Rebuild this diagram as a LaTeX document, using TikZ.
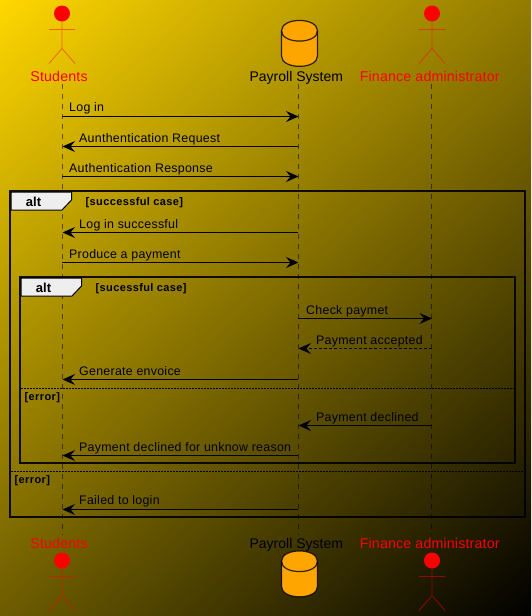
\documentclass[tikz,border=0pt]{standalone}
\usepackage{fontspec}
\setmainfont{Liberation Sans}
\newfontfamily\msgfont[LetterSpace=2.2]{Liberation Sans}
\newfontfamily\namefont[LetterSpace=1.2]{Liberation Sans}
\newfontfamily\condfont[LetterSpace=3.4]{Liberation Sans}
\usetikzlibrary{arrows.meta}
\definecolor{bggold}{RGB}{255,215,0}
\definecolor{dborange}{RGB}{255,165,0}
\definecolor{tabfill}{RGB}{238,238,238}
\pgfdeclarehorizontalshading{bgshade}{1000bp}{color(0bp)=(bggold); color(810.3bp)=(black)}
\tikzset{
  x=1pt,y=-1pt,
  msgtext/.style={anchor=base west,inner sep=0pt,font=\msgfont\fontsize{12.4}{15}\selectfont,text=black},
  boldtext/.style={anchor=base west,inner sep=0pt,font=\condfont\bfseries\fontsize{11}{13}\selectfont,text=black},
  alttext/.style={anchor=base,inner sep=0pt,font=\bfseries\fontsize{13}{15}\selectfont,text=black},
  actorname/.style={anchor=base,inner sep=0pt,font=\namefont\fontsize{14.2}{16}\selectfont,text=red},
  dbname/.style={anchor=base,inner sep=0pt,font=\fontsize{14}{16}\selectfont,text=black},
  lifeline/.style={draw=black,draw opacity=.55,line width=.8pt,dash pattern=on 5pt off 5pt},
  msg/.style={draw=black,line width=1pt,-{Stealth[length=12.5pt,width=11pt,inset=4.5pt]}},
  framebox/.style={draw=black,line width=2pt,draw opacity=.9},
  tabbox/.style={draw=black,line width=1pt,fill=tabfill},
  divider/.style={draw=black,line width=.8pt,dash pattern=on 1.5pt off 1.5pt},
  actorline/.style={draw=red,draw opacity=.5,line width=.8pt},
  actorhead/.style={fill=red,draw=none},
  dbshape/.style={fill=dborange,draw=black,draw opacity=.8,line width=1.2pt},
}
\newcommand{\actorfig}[2]{% x, head y
  \fill[actorhead] (#1,#2) circle[radius=8];
  \draw[actorline] (#1,#2+8) -- (#1,#2+35) (#1-13,#2+16) -- (#1+13,#2+16)
    (#1-13,#2+50) -- (#1,#2+35) -- (#1+13,#2+50);
}
\newcommand{\dbfig}[2]{% centre x, top y
  \draw[dbshape] (#1-18,#2+10.3) .. controls (#1-18,#2-3.5) and (#1+18,#2-3.5) .. (#1+18,#2+10.3)
    -- (#1+18,#2+35.5) .. controls (#1+18,#2+49.3) and (#1-18,#2+49.3) .. (#1-18,#2+35.5) -- cycle;
  \draw[dbshape,fill=none] (#1-18,#2+10.3) .. controls (#1-18,#2+24) and (#1+18,#2+24) .. (#1+18,#2+10.3);
}
\begin{document}
\begin{tikzpicture}
\useasboundingbox (0,0) rectangle (531,616);
\begin{scope}
  \clip (0,0) rectangle (531,616);
  \node[inner sep=0pt,outer sep=0pt,rotate=-49.24] (bg) at (265.5,308) {\pgfuseshading{bgshade}};
\end{scope}

% participants
\node[actorname] (sTop) at (59,81) {Students};
\node[dbname] (pTop) at (296.3,81) {Payroll System};
\node[actorname] (fTop) at (429.7,81) {Finance administrator};
\node[actorname] (sBot) at (59,548.5) {Students};
\node[dbname] (pBot) at (296.3,548.5) {Payroll System};
\node[actorname] (fBot) at (429.7,548.5) {Finance administrator};

\coordinate (sA) at (62,84);
\coordinate (sB) at (62,535);
\coordinate (pA) at (298,84);
\coordinate (pB) at (298,535);
\coordinate (fA) at (431.5,84);
\coordinate (fB) at (431.5,535);
\draw[lifeline] (sA) -- (sB);
\draw[lifeline] (pA) -- (pB);
\draw[lifeline] (fA) -- (fB);

\actorfig{62}{13.5}
\actorfig{432}{13.5}
\actorfig{62}{560.5}
\actorfig{432}{560.5}
\dbfig{299.5}{20.5}
\dbfig{299.5}{551}

% frames
\draw[framebox] (10.3,191.3) rectangle (525,517);
\draw[framebox] (20.3,277.3) rectangle (515,463);
\draw[tabbox] (11,192) -- (71.5,192) -- (71.5,200) -- (62,210) -- (11,210) -- cycle;
\draw[tabbox] (21,278) -- (81.5,278) -- (81.5,286) -- (72,296) -- (21,296) -- cycle;
\node[alttext] (altA) at (33.5,206) {alt};
\node[alttext] (altB) at (43.5,292) {alt};
\node[boldtext] (condA) at (85.5,205) {[successful case]};
\node[boldtext] (condB) at (95.5,291) {[sucessful case]};
\coordinate (divAa) at (11,471.5);
\coordinate (divAb) at (525,471.5);
\coordinate (divBa) at (21,388.5);
\coordinate (divBb) at (515,388.5);
\draw[divider] (divAa) -- (divAb);
\draw[divider] (divBa) -- (divBb);
\node[boldtext] (errA) at (14.5,483) {[error]};
\node[boldtext] (errB) at (24.5,400) {[error]};

% messages
\coordinate (m1a) at (62,116.5);   \coordinate (m1b) at (298.5,116.5);
\coordinate (m2a) at (298,146.5);  \coordinate (m2b) at (62.5,146.5);
\coordinate (m3a) at (62,176.5);   \coordinate (m3b) at (298.5,176.5);
\coordinate (m4a) at (298,232.5);  \coordinate (m4b) at (62.5,232.5);
\coordinate (m5a) at (62,262.5);   \coordinate (m5b) at (298.5,262.5);
\coordinate (m6a) at (298,318.5);  \coordinate (m6b) at (432,318.5);
\coordinate (m7a) at (431.5,348.5);\coordinate (m7b) at (298.5,348.5);
\coordinate (m8a) at (298,379.5);  \coordinate (m8b) at (62.5,379.5);
\coordinate (m9a) at (431.5,425.5);\coordinate (m9b) at (298.5,425.5);
\coordinate (m10a) at (298,455.5); \coordinate (m10b) at (62.5,455.5);
\coordinate (m11a) at (298,509.5); \coordinate (m11b) at (62.5,509.5);
\draw[msg] (m1a) -- (m1b);
\draw[msg] (m2a) -- (m2b);
\draw[msg] (m3a) -- (m3b);
\draw[msg] (m4a) -- (m4b);
\draw[msg] (m5a) -- (m5b);
\draw[msg] (m6a) -- (m6b);
\draw[msg,dash pattern=on 2.5pt off 2.5pt] (m7a) -- (m7b);
\draw[msg] (m8a) -- (m8b);
\draw[msg] (m9a) -- (m9b);
\draw[msg] (m10a) -- (m10b);
\draw[msg] (m11a) -- (m11b);

\node[msgtext] (t1) at (69,111.5) {Log in};
\node[msgtext] (t2) at (79,142) {Aunthentication Request};
\node[msgtext] (t3) at (69,172) {Authentication Response};
\node[msgtext] (t4) at (79,228) {Log in successful};
\node[msgtext] (t5) at (69,258) {Produce a payment};
\node[msgtext] (t6) at (306,314) {Check paymet};
\node[msgtext] (t7) at (316,344) {Payment accepted};
\node[msgtext] (t8) at (79,375) {Generate envoice};
\node[msgtext] (t9) at (316,421) {Payment declined};
\node[msgtext] (t10) at (79,451) {Payment declined for unknow reason};
\node[msgtext] (t11) at (79,504.5) {Failed to login};
\end{tikzpicture}
\end{document}
